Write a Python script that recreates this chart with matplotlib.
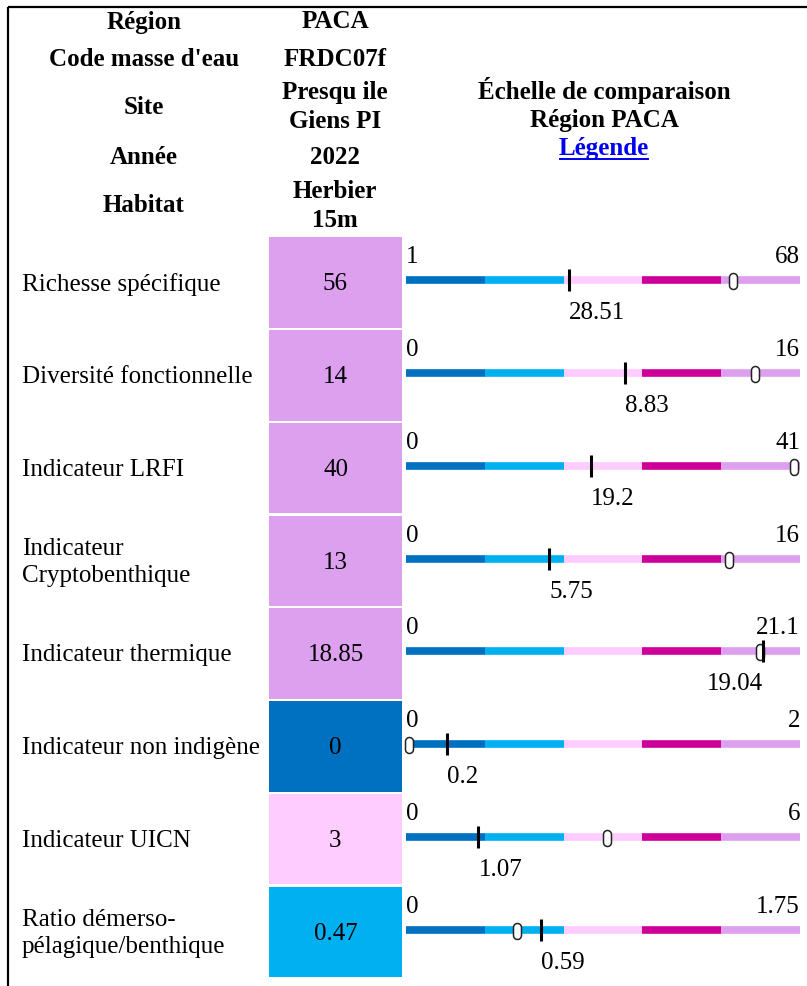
import numpy as np
import matplotlib
matplotlib.use("Agg")
import matplotlib.pyplot as plt
from matplotlib.patches import Rectangle
from matplotlib.path import Path

plt.rcParams['font.family'] = ['Liberation Serif', 'DejaVu Serif']

# ----------------------------
# Data
# ----------------------------
header_labels = ["Région", "Code masse d'eau", "Site", "Année", "Habitat"]
header_values = ["PACA", "FRDC07f", "Presqu ile\nGiens PI", "2022", "Herbier\n15m"]
title_lines = ["Échelle de comparaison", "Région PACA"]
legend_link = "Légende"

indicators = ["Richesse spécifique", "Diversité fonctionnelle", "Indicateur LRFI",
              "Indicateur\nCryptobenthique", "Indicateur thermique",
              "Indicateur non indigène", "Indicateur UICN",
              "Ratio démerso-\npélagique/benthique"]
site_values = ["56", "14", "40", "13", "18.85", "0", "3", "0.47"]
scale_min = ["1", "0", "0", "0", "0", "0", "0", "0"]
scale_max = ["68", "16", "41", "16", "21.1", "2", "6", "1.75"]
ref_values = ["28.51", "8.83", "19.2", "5.75", "19.04", "0.2", "1.07", "0.59"]
# position on the comparison scale (0 = regional min, 1 = regional max)
site_pos = [0.829, 0.885, 0.985, 0.821, 0.898, 0.008, 0.509, 0.281]
ref_pos = [0.414, 0.556, 0.470, 0.364, 0.907, 0.103, 0.184, 0.343]

class_edges = [0.0, 0.2, 0.4, 0.6, 0.8, 1.0]
class_colors = ["#0070C0", "#00B0F0", "#FFCCFF", "#CC0099", "#DDA0EE"]

# ----------------------------
# Layout (pixels)
# ----------------------------
W, H = 807, 987
FS = 18
LS = 1.33
row_top0 = 238.3
row_pitch = 92.77
cell_x0, cell_x1 = 269, 402
bar_x0, bar_x1 = 406, 800

fig = plt.figure(figsize=(W / 100, H / 100), dpi=100)
ax = fig.add_axes([0, 0, 1, 1])
ax.set_xlim(0, W)
ax.set_ylim(H, 0)
ax.axis('off')

# frame
ax.plot([7.5, W], [8, 8], color='black', lw=1.6, solid_capstyle='butt')
ax.plot([7.5, 7.5], [8, H], color='black', lw=1.6, solid_capstyle='butt')

# header block
header_y = [22, 59, 107, 157, 206]
for lab, val, y in zip(header_labels, header_values, header_y):
    ax.text(144, y, lab, ha='center', va='center', fontsize=FS, fontweight='bold')
    ax.text(335, y, val, ha='center', va='center', fontsize=FS, fontweight='bold',
            linespacing=LS)

ax.text(604, 90, title_lines[0], ha='center', va='center', fontsize=FS, fontweight='bold')
ax.text(604, 120, title_lines[1], ha='center', va='center', fontsize=FS, fontweight='bold')
leg = ax.text(604, 149, legend_link, ha='center', va='center', fontsize=FS,
              fontweight='bold', color='#0000EE')

# oval marker (stadium shape, twice as tall as wide)
t1 = np.linspace(0, np.pi, 20)
t2 = np.linspace(np.pi, 2 * np.pi, 20)
r = 0.5
verts = np.concatenate([
    np.column_stack([r * np.cos(t1), 0.5 + r * np.sin(t1)]),
    np.column_stack([r * np.cos(t2), -0.5 + r * np.sin(t2)]),
])
verts = np.vstack([verts, verts[:1]])
oval = Path(verts, closed=True)

for i, name in enumerate(indicators):
    top = row_top0 + i * row_pitch
    cls = min(int(np.searchsorted(class_edges, site_pos[i], side='right')) - 1, 4)

    ax.text(22, top + 46, name, ha='left', va='center', fontsize=FS, linespacing=LS)
    ax.add_patch(Rectangle((cell_x0, top), cell_x1 - cell_x0, 90.5,
                           facecolor=class_colors[cls], edgecolor='none'))
    ax.text((cell_x0 + cell_x1) / 2, top + 46, site_values[i], ha='center',
            va='center', fontsize=FS)

    # comparison gauge
    g = fig.add_axes([bar_x0 / W, 1 - (top + row_pitch) / H,
                      (bar_x1 - bar_x0) / W, row_pitch / H])
    g.set_xlim(0, 1)
    g.set_ylim(row_pitch, 0)
    g.axis('off')
    for k in range(5):
        g.plot([class_edges[k], class_edges[k + 1]], [43, 43], color=class_colors[k],
               lw=5.5, solid_capstyle='butt')
    g.plot([site_pos[i]], [44], marker=oval, markersize=11.5, markerfacecolor='white',
           markeredgecolor='#222222', markeredgewidth=1.1, clip_on=False, zorder=3)
    g.plot([ref_pos[i]], [43], marker='|', markersize=16, markeredgewidth=2.2,
           color='black', clip_on=False, zorder=4)

    g.text(0, 19, scale_min[i], ha='left', va='center', fontsize=FS)
    g.text(1, 19, scale_max[i], ha='right', va='center', fontsize=FS)
    ha = 'right' if ref_pos[i] > 0.85 else 'left'
    g.text(ref_pos[i], 75, ref_values[i], ha=ha, va='center', fontsize=FS)

# underline the legend link
fig.canvas.draw()
bb = leg.get_window_extent().transformed(ax.transData.inverted())
ax.plot([bb.x0 + 1, bb.x1 - 1], [160, 160], color='#0000EE', lw=1.4)

fig.savefig("out.png", dpi=100, facecolor='white')
